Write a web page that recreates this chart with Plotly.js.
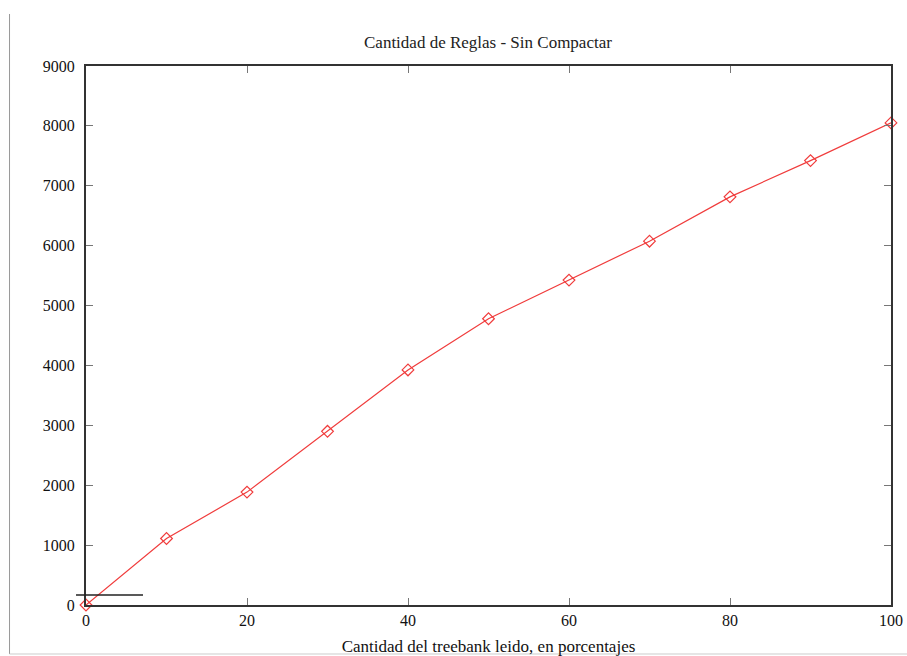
<!DOCTYPE html>
<html>
<head>
<meta charset="utf-8">
<script src="https://cdn.plot.ly/plotly-3.0.1.min.js"></script>
<style>html,body{margin:0;padding:0;background:#fff;}#chart{width:907px;height:656px;}</style>
</head>
<body>
<div id="chart"></div>
<script>
const porcentajes = [0, 10, 20, 30, 40, 50, 60, 70, 80, 90, 100];
const reglas = [0, 1110, 1885, 2900, 3925, 4780, 5425, 6075, 6815, 7420, 8050];
const xTicks = [0, 20, 40, 60, 80, 100];
const yTicks = [0, 1000, 2000, 3000, 4000, 5000, 6000, 7000, 8000, 9000];

const serif = "Liberation Serif, Times New Roman, serif";

const trace = {
  x: porcentajes,
  y: reglas,
  type: 'scatter',
  mode: 'lines+markers',
  line: {color: '#f03c3c', width: 1.2},
  marker: {symbol: 'diamond-open', size: 9, color: '#f03c3c', line: {width: 1.2, color: '#f03c3c'}},
  cliponaxis: false,
  showlegend: false
};

const axisBase = {
  showgrid: false,
  zeroline: false,
  showline: true,
  linecolor: '#333',
  linewidth: 2,
  mirror: 'ticks',
  ticks: 'inside',
  ticklen: 7,
  tickcolor: '#777',
  tickwidth: 1,
  tickfont: {family: serif, size: 16, color: '#111'}
};

const layout = {
  width: 907,
  height: 656,
  margin: {l: 86, r: 16, t: 66, b: 51},
  paper_bgcolor: '#fff',
  plot_bgcolor: '#fff',
  title: {
    text: 'Cantidad de Reglas - Sin Compactar',
    font: {family: serif, size: 17, color: '#222'},
    x: 0.538, xanchor: 'center',
    y: 1 - 42/656, yanchor: 'middle', yref: 'container'
  },
  xaxis: Object.assign({}, axisBase, {
    range: [0, 100],
    tickvals: xTicks,
    ticktext: xTicks.map(String),
    title: {text: 'Cantidad del treebank leido, en porcentajes', font: {family: serif, size: 17, color: '#111'}, standoff: 14}
  }),
  yaxis: Object.assign({}, axisBase, {
    range: [0, 9000],
    tickvals: yTicks,
    ticktext: yTicks.map(String),
    ticklabelstandoff: 6
  }),
  shapes: [
    {type: 'line', xref: 'paper', yref: 'paper', x0: -0.0124, x1: 0.0708, y0: 0.0186, y1: 0.0186, line: {color: '#222', width: 1.5}},
    {type: 'line', xref: 'paper', yref: 'paper', x0: -0.095, x1: -0.095, y0: 1.0965, y1: -0.0909, line: {color: '#999', width: 1}},
    {type: 'line', xref: 'paper', yref: 'paper', x0: -0.095, x1: 1.02, y0: -0.0909, y1: -0.0909, line: {color: '#ccc', width: 1}}
  ]
};

Plotly.newPlot('chart', [trace], layout, {displayModeBar: false, staticPlot: true});
</script>
</body>
</html>
